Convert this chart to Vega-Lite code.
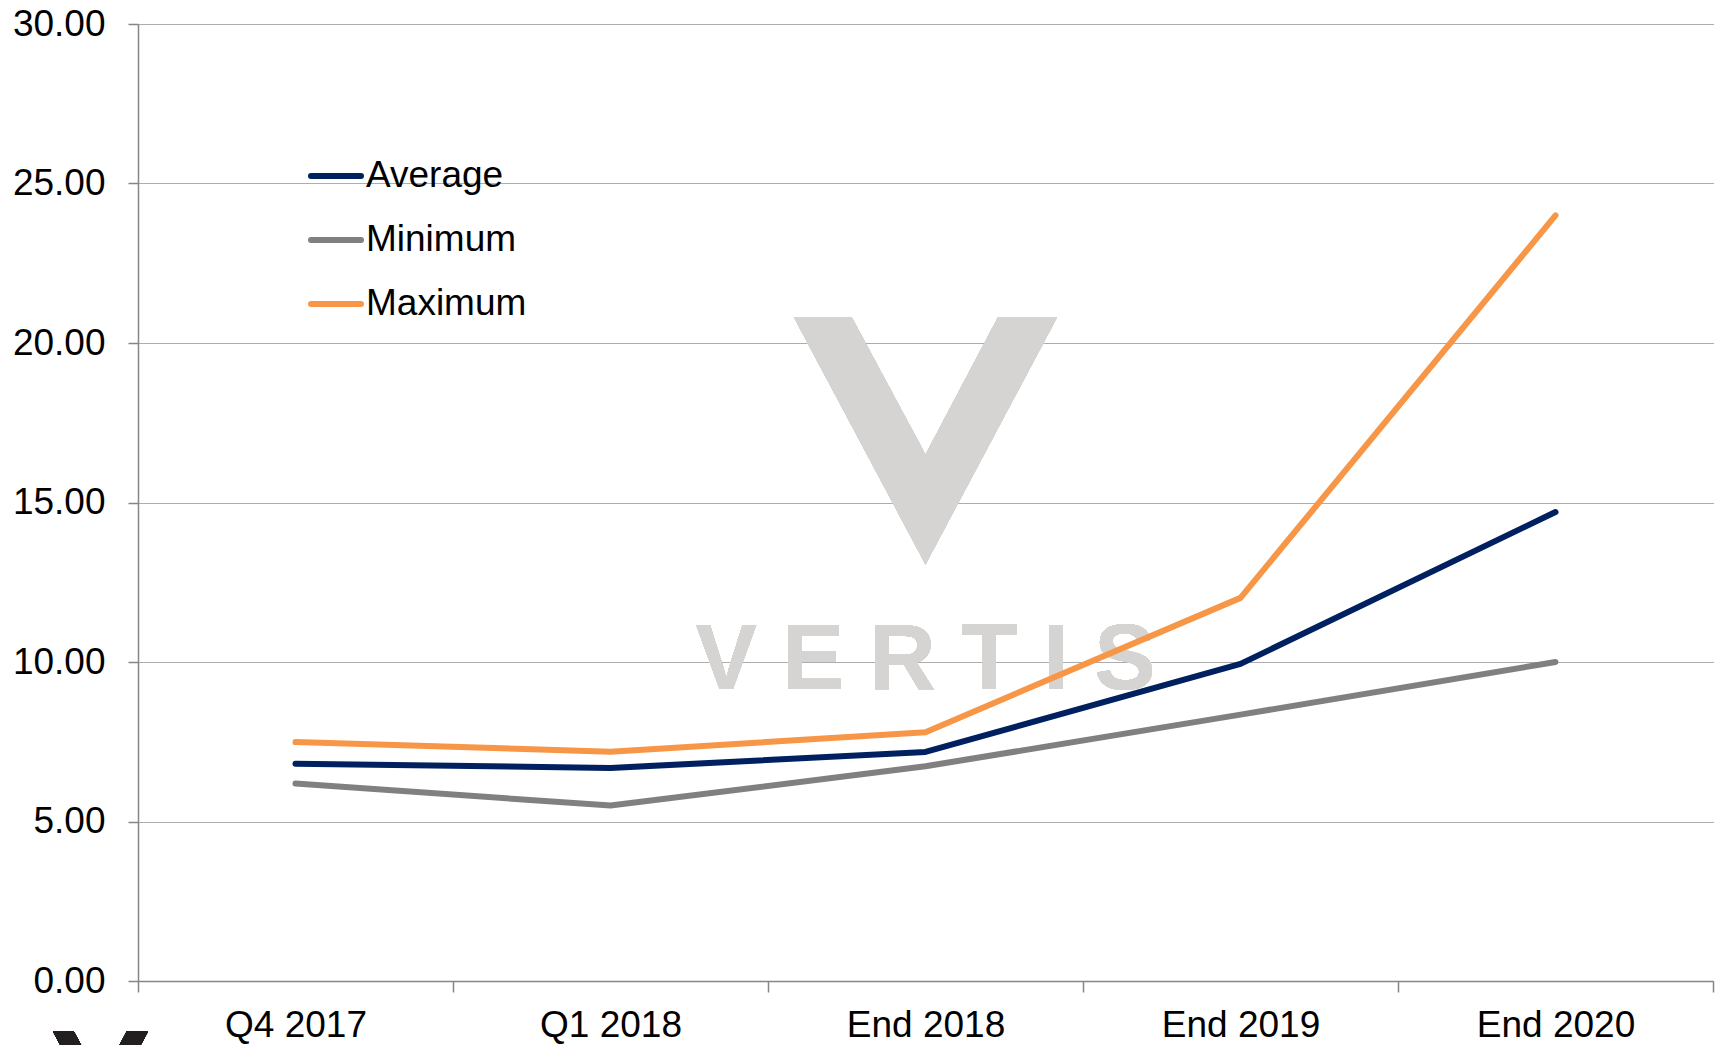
{
  "$schema": "https://vega.github.io/schema/vega-lite/v6.json",
  "width": 1575,
  "height": 957,
  "autosize": {"type": "none"},
  "padding": {"left": 138, "top": 24, "right": 8, "bottom": 64},
  "background": "white",
  "config": {
    "view": {"stroke": null},
    "font": "Liberation Sans"
  },
  "data": {
    "values": [
      {"period": "Q4 2017", "series": "Average", "value": 6.81},
      {"period": "Q1 2018", "series": "Average", "value": 6.68},
      {"period": "End 2018", "series": "Average", "value": 7.18},
      {"period": "End 2019", "series": "Average", "value": 9.94},
      {"period": "End 2020", "series": "Average", "value": 14.70},
      {"period": "Q4 2017", "series": "Minimum", "value": 6.19},
      {"period": "Q1 2018", "series": "Minimum", "value": 5.50},
      {"period": "End 2018", "series": "Minimum", "value": 6.73},
      {"period": "End 2019", "series": "Minimum", "value": 8.35},
      {"period": "End 2020", "series": "Minimum", "value": 10.0},
      {"period": "Q4 2017", "series": "Maximum", "value": 7.49},
      {"period": "Q1 2018", "series": "Maximum", "value": 7.19},
      {"period": "End 2018", "series": "Maximum", "value": 7.80},
      {"period": "End 2019", "series": "Maximum", "value": 12.01},
      {"period": "End 2020", "series": "Maximum", "value": 24.0}
    ]
  },
  "layer": [
    {
      "mark": {"type": "point", "shape": "M-1,-0.939L-0.56,-0.939L0,0.103L0.55,-0.939L1,-0.939L0,0.939Z", "filled": true, "size": 69169, "fill": "#d5d4d2", "opacity": 1, "strokeWidth": 0},
      "encoding": {
        "x": {"datum": "End 2018", "type": "nominal"},
        "y": {"datum": 16.93, "type": "quantitative"}
      }
    },
    {
      "mark": {"type": "text", "text": "V E R T I S", "fontSize": 92, "fontWeight": "bold", "font": "Liberation Sans", "fill": "#d5d4d2", "opacity": 1, "align": "center", "baseline": "alphabetic"},
      "encoding": {
        "x": {"datum": "End 2018", "type": "nominal"},
        "y": {"datum": 9.14, "type": "quantitative"}
      }
    },
    {
      "mark": {"type": "point", "shape": "M-1,-0.939L-0.56,-0.939L0,0.103L0.55,-0.939L1,-0.939L0,0.939Z", "filled": true, "size": 9025, "color": "#231f20", "opacity": 1, "strokeWidth": 0, "xOffset": -195, "clip": false},
      "encoding": {
        "x": {"datum": "Q4 2017", "type": "nominal"},
        "y": {"datum": -2.98, "type": "quantitative"}
      }
    },
    {
      "mark": {"type": "line", "strokeWidth": 6, "strokeCap": "round", "strokeJoin": "round"},
      "encoding": {
        "x": {
          "field": "period",
          "type": "nominal",
          "sort": ["Q4 2017", "Q1 2018", "End 2018", "End 2019", "End 2020"],
          "scale": {"paddingInner": 0, "paddingOuter": 0},
          "axis": {
            "title": null,
            "labelAngle": 0,
            "labelAlign": "center",
            "labelFontSize": 37,
            "labelColor": "#000000",
            "labelFont": "Liberation Sans",
            "labelPadding": 33,
            "tickSize": 11,
            "tickBand": "extent",
            "tickColor": "#868686",
            "tickWidth": 1.5,
            "domainColor": "#868686",
            "domainWidth": 1.5,
            "grid": false
          }
        },
        "y": {
          "field": "value",
          "type": "quantitative",
          "scale": {"domain": [0, 30], "nice": false, "zero": true},
          "axis": {
            "title": null,
            "values": [0, 5, 10, 15, 20, 25, 30],
            "format": ".2f",
            "labelFontSize": 37,
            "labelColor": "#000000",
            "labelFont": "Liberation Sans",
            "labelPadding": 23,
            "tickSize": 10,
            "tickColor": "#868686",
            "tickWidth": 1.5,
            "domainColor": "#868686",
            "domainWidth": 1.5,
            "grid": true,
            "gridColor": "#5a5a5a",
            "gridDash": [1, 1],
            "gridWidth": 1
          }
        },
        "color": {
          "field": "series",
          "type": "nominal",
          "sort": ["Average", "Minimum", "Maximum"],
          "scale": {"domain": ["Average", "Minimum", "Maximum"], "range": ["#002060", "#808080", "#f79646"]},
          "legend": {
            "title": null,
            "orient": "none",
            "legendX": 170,
            "legendY": 124,
            "symbolType": "stroke",
            "symbolSize": 2500,
            "symbolStrokeWidth": 6,
            "labelFontSize": 37,
            "labelFont": "Liberation Sans",
            "labelColor": "#000000",
            "labelOffset": 2,
            "rowPadding": 18,
            "labelLimit": 400,
            "encode": {"symbols": {"update": {"strokeCap": {"value": "round"}}}}
          }
        }
      }
    }
  ]
}
